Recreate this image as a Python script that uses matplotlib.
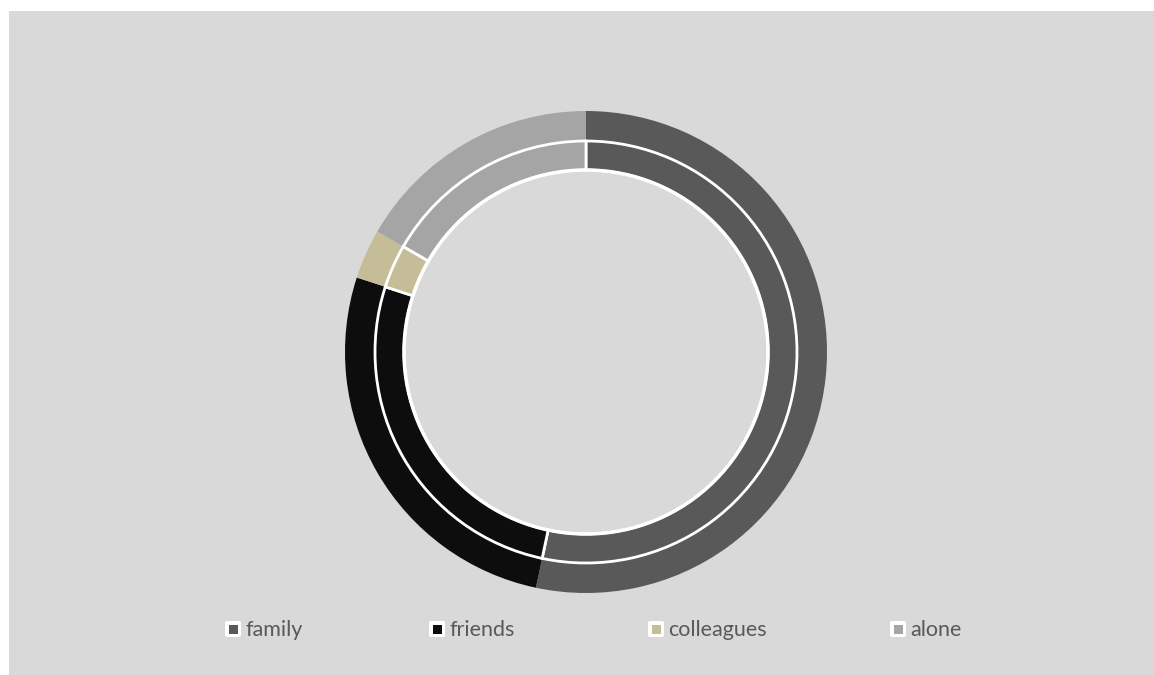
import matplotlib
matplotlib.use("Agg")
import matplotlib.pyplot as plt
from matplotlib.patches import Rectangle, Circle, FancyBboxPatch

# Share of time spent with each group (two doughnut series)
categories = ["family", "friends", "colleagues", "alone"]
outer_values = [16, 8, 1, 5]
inner_values = [16, 8, 1, 5]
colors = ["#595959", "#0d0d0d", "#c4bd97", "#a5a5a5"]

W, H = 1154, 675
fig = plt.figure(figsize=(W / 100, H / 100), dpi=100)
fig.patch.set_facecolor("white")
ax = fig.add_axes([0, 0, 1, 1])
ax.set_xlim(0, W)
ax.set_ylim(0, H)
ax.set_aspect("equal")
ax.axis("off")

# chart area background
ax.add_patch(Rectangle((9, 0), W - 9, H - 11, facecolor="#d9d9d9",
                       edgecolor="none", zorder=0))

cx, cy = 586, H - 352

# outer series: no separators
ax.pie(outer_values, colors=colors, radius=241, center=(cx, cy),
       startangle=90, counterclock=False, frame=True,
       wedgeprops=dict(width=30, edgecolor="none", linewidth=0))

# inner series: white outlines
ax.pie(inner_values, colors=colors, radius=211, center=(cx, cy),
       startangle=90, counterclock=False, frame=True,
       wedgeprops=dict(width=29, edgecolor="white", linewidth=2.0))
ax.add_patch(Circle((cx, cy), 182, facecolor="none", edgecolor="white",
                    linewidth=2.5, zorder=5))

ax.set_xlim(0, W)
ax.set_ylim(0, H)
ax.axis("off")

# legend
legend_x = [225, 429, 648, 890]
ly = H - 629
for x, lab, col in zip(legend_x, categories, colors):
    ax.add_patch(FancyBboxPatch((x, ly - 8), 16, 16,
                                boxstyle="round,pad=0,rounding_size=2",
                                facecolor="white", edgecolor="none", zorder=6))
    ax.add_patch(Rectangle((x + 3.5, ly - 4.5), 9, 9, facecolor=col,
                           edgecolor="none", zorder=7))
    ax.text(x + 20, ly - 1, lab, fontsize=15.5, family="Lato", color="#595959",
            va="center", ha="left", zorder=7)

fig.savefig("out.png", dpi=100, facecolor=fig.get_facecolor())
